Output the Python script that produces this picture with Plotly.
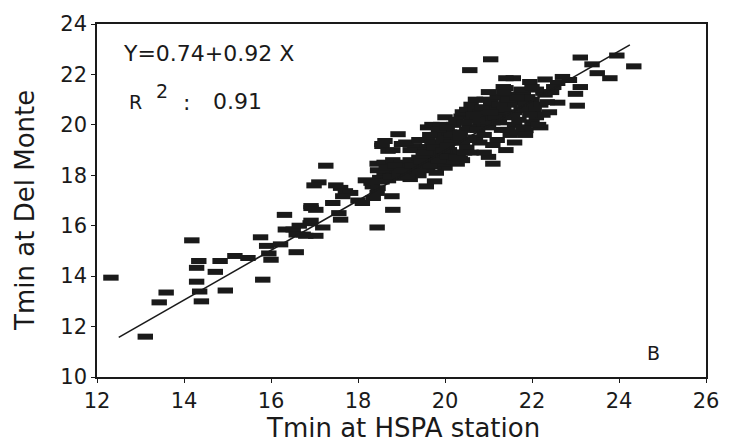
import plotly.graph_objects as go

# ---- data ----
x_sparse = [12.32, 13.11, 13.43, 13.59, 14.18, 14.34, 14.29, 14.29, 14.36, 14.40, 14.72, 14.83, 14.95,
            15.17, 15.47, 15.81, 15.76, 15.90, 15.95, 16.00, 16.31, 16.33, 16.51, 16.58, 16.58, 16.22,
            16.80, 16.90, 16.92, 17.26, 17.10, 16.99, 16.92, 17.03, 16.92, 17.19, 17.03, 16.74, 16.65,
            17.42, 17.56, 17.60, 17.49, 17.60, 17.71, 17.83, 17.65, 18.00, 18.17, 18.33, 18.46, 18.44,
            18.35, 18.10, 18.78, 18.80, 18.44, 18.44, 18.55, 18.62, 18.92, 19.00, 19.57, 19.76]
y_sparse = [13.94, 11.60, 12.96, 13.35, 15.42, 14.60, 14.33, 13.78, 13.39, 13.00, 14.17, 14.60, 13.43,
            14.80, 14.72, 13.86, 15.54, 15.20, 14.90, 14.65, 16.43, 15.85, 15.85, 15.65, 14.95, 15.26,
            15.60, 16.10, 16.70, 18.38, 17.72, 17.60, 16.78, 16.63, 16.20, 15.93, 15.60, 15.65, 16.00,
            16.90, 16.50, 16.24, 17.60, 17.50, 17.37, 17.30, 17.17, 17.00, 17.80, 17.56, 17.49, 17.30,
            17.10, 16.90, 17.17, 16.63, 15.93, 18.46, 19.16, 19.36, 19.63, 19.24, 17.56, 17.76]

x_upper = [21.05, 20.57, 23.11, 23.38, 23.95, 24.34, 23.50, 23.79, 21.57, 21.95, 22.30, 21.34, 22.59,
           22.86, 23.11, 23.00, 23.04, 22.59, 21.86, 22.25, 22.02, 21.00, 20.37, 18.55, 18.69, 19.30,
           19.60, 21.40, 21.40, 21.10, 20.28, 19.90, 22.50, 22.70]
y_upper = [22.60, 22.17, 22.67, 22.40, 22.75, 22.32, 22.05, 21.85, 21.85, 21.70, 21.80, 21.50, 21.66,
           21.78, 21.50, 21.23, 20.76, 20.88, 19.79, 21.27, 20.72, 18.73, 20.33, 19.24, 18.97, 19.16,
           19.12, 21.85, 21.46, 18.46, 18.46, 18.46, 21.50, 21.90]

x_dense = [18.5, 18.6, 18.7, 18.8, 18.9, 19.0, 19.1, 19.2, 19.3, 19.4, 19.5, 19.6, 19.7, 19.8, 19.9,
           20.0, 20.1, 20.2, 20.3, 20.4, 18.6, 18.8, 19.0, 19.2, 19.4, 19.6, 19.8, 18.3, 18.45, 19.05,
           19.5, 19.6, 19.7, 19.8, 19.9, 20.0, 20.1, 20.2, 20.3, 20.4, 20.5, 20.6, 20.7, 20.8, 19.6,
           19.7, 19.9, 20.0, 20.1, 20.2, 20.3, 20.5, 19.8, 20.0, 20.6, 20.4, 20.5, 20.6, 20.7,
           20.8, 20.9, 21.0, 21.1, 21.2, 21.3, 21.4, 21.5, 21.6, 21.7, 21.8, 21.9, 22.0, 22.1, 22.2,
           22.3, 20.9, 21.0, 21.2, 21.3, 21.5, 21.6, 21.8, 22.0, 22.2, 22.4, 21.1, 21.4, 21.7, 20.9,
           21.2, 21.5, 21.9, 22.1, 21.0, 20.7, 20.8, 21.1, 21.4, 20.9, 21.6,
           18.8, 19.1, 19.4, 19.7, 19.2, 19.5,
           18.55, 18.75, 18.95, 19.15, 19.35, 19.55, 19.75, 19.95, 20.15, 20.35, 18.65, 18.85, 19.05,
           19.25, 19.45, 19.65, 19.85, 20.05, 20.25, 20.45,
           19.55, 19.75, 19.95, 20.15, 20.35, 20.55, 20.75, 19.85, 20.05, 20.25, 20.45, 20.65, 20.15,
           20.35, 20.55, 20.75, 19.65, 19.95, 20.05,
           20.85, 21.05, 21.25, 21.45, 21.65, 21.85, 22.05, 22.25, 21.15, 21.35, 21.55, 21.75, 21.95,
           22.15, 21.05, 21.25, 21.45, 21.65, 21.85, 22.35, 22.45, 21.35, 21.75, 22.00]
y_dense = [17.9, 18.1, 17.8, 18.0, 18.2, 17.9, 18.1, 17.85, 18.3, 18.0, 18.4, 18.2, 18.5, 18.1, 18.6,
           18.3, 18.7, 18.5, 18.8, 18.6, 18.5, 18.6, 18.5, 18.6, 18.7, 18.65, 18.8, 17.7, 18.2, 18.35,
           19.0, 19.4, 18.9, 19.6, 19.2, 19.8, 19.0, 19.5, 20.1, 19.3, 19.8, 20.2, 19.5, 20.0, 19.9,
           20.0, 20.0, 20.3, 19.7, 20.0, 18.9, 19.1, 18.8, 18.9, 18.9, 20.5, 20.6, 20.8, 20.6,
           20.5, 21.0, 20.2, 20.7, 21.1, 20.4, 20.9, 21.2, 20.5, 20.9, 21.3, 20.6, 21.0, 20.3, 20.8,
           21.2, 19.6, 19.9, 19.4, 19.8, 19.6, 20.0, 19.9, 20.1, 19.9, 20.5, 20.1, 20.3, 20.2, 20.3,
           20.6, 20.8, 21.1, 21.4, 21.3, 21.0, 19.3, 19.2, 19.0, 18.9, 19.3,
           19.0, 19.3, 19.4, 19.3, 19.0, 18.8,
           17.75, 17.95, 18.05, 17.95, 18.15, 18.25, 18.35, 18.45, 18.55, 18.65, 18.3, 18.4, 18.2,
           18.4, 18.55, 18.4, 18.6, 18.75, 18.7, 18.9,
           18.9, 19.1, 19.4, 19.6, 19.7, 19.9, 20.2, 19.8, 19.9, 20.2, 20.1, 20.4, 19.3,
           19.5, 19.4, 19.8, 19.6, 19.0, 19.2,
           20.7, 20.9, 20.8, 21.0, 21.1, 20.8, 20.6, 20.4, 20.3, 20.6, 20.4, 20.6, 20.4,
           20.0, 20.5, 20.1, 19.8, 19.7, 19.6, 20.9, 21.3, 21.3, 21.4, 21.5]

x_vals = x_sparse + x_upper + x_dense
y_vals = y_sparse + y_upper + y_dense

line_x = [12.5, 24.25]
line_y = [11.57, 23.17]

x_ticks = [12, 14, 16, 18, 20, 22, 24, 26]
y_ticks = [10, 12, 14, 16, 18, 20, 22, 24]

FONT = "DejaVu Sans"
INK = "#1a1a1a"

fig = go.Figure()
fig.add_trace(go.Scatter(
    x=x_vals, y=y_vals, mode="markers",
    marker=dict(symbol="line-ew", size=11, color=INK,
                line=dict(width=6, color=INK)),
    showlegend=False, hoverinfo="skip"))
fig.add_trace(go.Scatter(
    x=line_x, y=line_y, mode="lines",
    line=dict(color=INK, width=1.6), showlegend=False, hoverinfo="skip"))

axis_common = dict(showgrid=False, zeroline=False, showline=True, mirror=True,
                   linecolor=INK, linewidth=1.6, ticks="outside", ticklen=4,
                   tickcolor=INK, tickwidth=1.2,
                   tickfont=dict(family=FONT, size=21, color=INK))

fig.update_xaxes(range=[12, 26], tickvals=x_ticks, ticktext=[str(v) for v in x_ticks],
                 **axis_common)
fig.update_yaxes(range=[10, 24], tickvals=y_ticks, ticktext=[str(v) for v in y_ticks],
                 **axis_common)

ann_font = dict(family=FONT, size=22, color=INK)
annotations = [
    dict(text="Tmin at HSPA station", x=0.502, y=-0.145, xanchor="center", yanchor="middle",
         font=dict(family=FONT, size=26, color=INK)),
    dict(text="Tmin at Del Monte", x=-0.118, y=0.471, xanchor="center", yanchor="middle",
         textangle=-90, font=dict(family=FONT, size=26, color=INK)),
    dict(text="Y=0.74+0.92 X", x=0.040, y=0.916, xanchor="left", yanchor="middle"),
    dict(text="R", x=0.050, y=0.780, xanchor="left", yanchor="middle", font=dict(family=FONT, size=19, color=INK)),
    dict(text="2", x=0.093, y=0.810, xanchor="left", yanchor="middle", font=dict(family=FONT, size=19, color=INK)),
    dict(text=":", x=0.147, y=0.777, xanchor="center", yanchor="middle"),
    dict(text="0.91", x=0.187, y=0.780, xanchor="left", yanchor="middle"),
    dict(text="B", x=0.913, y=0.067, xanchor="center", yanchor="middle", font=dict(family=FONT, size=19, color=INK)),
]
for a in annotations:
    a.setdefault("font", ann_font)
    a.update(xref="paper", yref="paper", showarrow=False)

fig.update_layout(
    width=731, height=445,
    margin=dict(l=97, r=15, t=18, b=68),
    paper_bgcolor="white", plot_bgcolor="white",
    annotations=annotations,
)

fig.write_html("out.html")
